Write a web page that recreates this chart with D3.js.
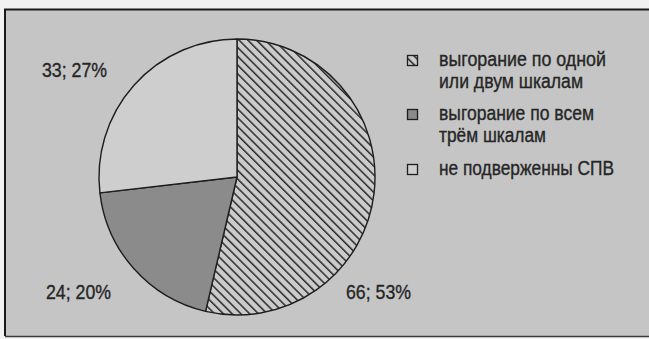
<!DOCTYPE html>
<html><head><meta charset="utf-8">
<script src="https://cdn.jsdelivr.net/npm/d3@7/dist/d3.min.js"></script>
<style>
html,body{margin:0;padding:0;background:#f2f2f2;}
svg{display:block;}
text{font-family:"Liberation Sans",Arial,sans-serif;fill:#262626;stroke:#262626;stroke-width:0.35px;}
</style></head>
<body>
<svg id="chart" width="649" height="339"></svg>
<script>
const categories = ["выгорание по одной или двум шкалам", "выгорание по всем трём шкалам", "не подверженны СПВ"];
const legendLines = [["выгорание по одной", "или двум шкалам"], ["выгорание по всем", "трём шкалам"], ["не подверженны СПВ"]];
const values = [66, 24, 33];
const percents = [53, 20, 27];
const fills = ["url(#hatch)", "#8b8b8b", "#cecece"];

const svg = d3.select("#chart");
const W = 649, H = 339;

const defs = svg.append("defs");
const sp = 6.2;
const pat = defs.append("pattern").attr("id", "hatch").attr("patternUnits", "userSpaceOnUse")
  .attr("width", sp).attr("height", sp).attr("patternTransform", "rotate(45)");
pat.append("rect").attr("width", sp).attr("height", sp).attr("fill", "#cbcbcb");
pat.append("line").attr("x1", 0).attr("y1", 1).attr("x2", sp).attr("y2", 1)
  .attr("stroke", "#1e1e1e").attr("stroke-width", 1.4);

// panel background and frame
svg.append("rect").attr("x", 5).attr("y", 9).attr("width", W - 5).attr("height", 327).attr("fill", "#c5c5c5");
svg.append("path").attr("d", `M5,${H - 3} L5,9.5 L${W},9.5`).attr("fill", "none").attr("stroke", "#1a1a1a").attr("stroke-width", 2);
svg.append("line").attr("x1", 5).attr("x2", W).attr("y1", 336.5).attr("y2", 336.5).attr("stroke", "#3a3a3a").attr("stroke-width", 1.5);

// pie
const cx = 237, cy = 177, r = 138;
const pie = d3.pie().sort(null).value(d => d)(values);
const arc = d3.arc().innerRadius(0).outerRadius(r);
const g = svg.append("g").attr("transform", `translate(${cx},${cy})`);
g.selectAll("path.slice").data(pie).join("path").attr("class", "slice")
  .attr("d", arc).attr("fill", (d, i) => fills[i])
  .attr("stroke", "#1e1e1e").attr("stroke-width", 1.4).attr("stroke-linejoin", "round");

// data labels
const labelPos = [[346, 299], [46, 299], [42, 77]];
svg.selectAll("text.dl").data(values).join("text").attr("class", "dl")
  .attr("x", (d, i) => labelPos[i][0]).attr("y", (d, i) => labelPos[i][1])
  .attr("font-size", 20)
  .attr("textLength", 65).attr("lengthAdjust", "spacingAndGlyphs")
  .text((d, i) => `${d}; ${percents[i]}%`);

// legend
const legY = [66, 120, 175];
const legW = [[167, 144], [155, 107], [175]];
const lg = svg.append("g");
legendLines.forEach((lines, i) => {
  lg.append("rect").attr("x", 407.5).attr("y", legY[i] - 10.5).attr("width", 10).attr("height", 10)
    .attr("fill", fills[i]).attr("stroke", "#1e1e1e").attr("stroke-width", 1.3);
  lines.forEach((t, j) => {
    lg.append("text").attr("x", 439).attr("y", legY[i] + j * 22).attr("font-size", 19.5)
      .attr("textLength", legW[i][j]).attr("lengthAdjust", "spacingAndGlyphs").text(t);
  });
});
</script>
</body></html>
